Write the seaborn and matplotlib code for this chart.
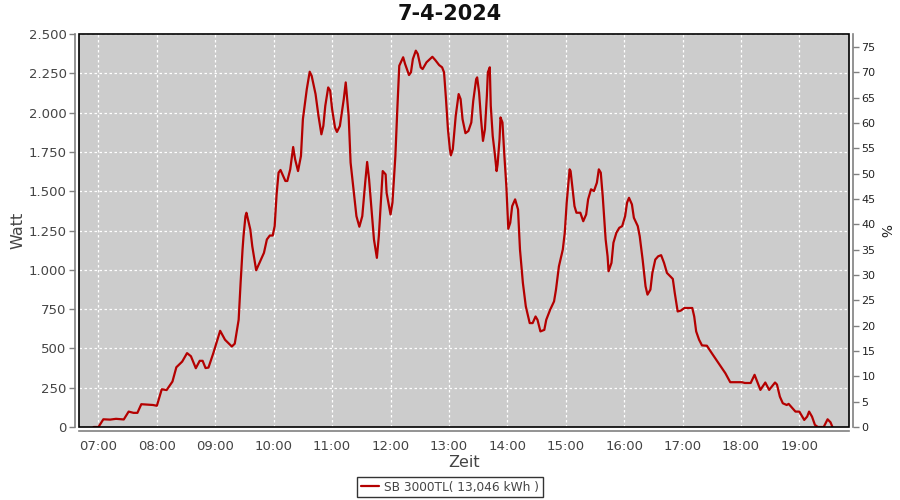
import matplotlib
matplotlib.use("Agg")
import matplotlib.pyplot as plt
import matplotlib.dates as mdates
from matplotlib.patches import Rectangle
from matplotlib.ticker import FuncFormatter
import pandas as pd
import seaborn as sns

DAY = "2024-04-07"
TITLE = "7-4-2024"
SERIES_NAME = "SB 3000TL( 13,046 kWh )"

TIMES = [
    "06:55", "07:00", "07:05", "07:12", "07:18", "07:26", "07:31", "07:36", "07:40", "07:44",
    "07:56", "08:00", "08:05", "08:10", "08:16", "08:20", "08:26", "08:31", "08:35", "08:40",
    "08:44", "08:47", "08:50", "08:53", "08:58", "09:05", "09:10", "09:17", "09:20", "09:24",
    "09:26", "09:28", "09:29", "09:31", "09:32", "09:36", "09:38", "09:42", "09:50", "09:53",
    "09:56", "09:59", "10:01", "10:03", "10:05", "10:07", "10:12", "10:14", "10:17", "10:20",
    "10:22", "10:25", "10:28", "10:30", "10:34", "10:37", "10:39", "10:43", "10:46", "10:49",
    "10:51", "10:53", "10:56", "10:58", "11:00", "11:03", "11:05", "11:08", "11:12", "11:14",
    "11:17", "11:19", "11:22", "11:25", "11:28", "11:31", "11:34", "11:36", "11:38", "11:41",
    "11:43", "11:46", "11:48", "11:50", "11:52", "11:55", "11:56", "12:00", "12:02", "12:05",
    "12:07", "12:09", "12:13", "12:15", "12:19", "12:21", "12:23", "12:26", "12:28", "12:31",
    "12:33", "12:37", "12:43", "12:46", "12:50", "12:53", "12:55", "12:57", "12:59", "13:01",
    "13:02", "13:04", "13:07", "13:10", "13:12", "13:14", "13:17", "13:20", "13:23", "13:25",
    "13:28", "13:29", "13:31", "13:33", "13:35", "13:37", "13:39", "13:40", "13:42", "13:43",
    "13:45", "13:47", "13:49", "13:50", "13:52", "13:53", "13:55", "13:57", "13:59", "14:01",
    "14:03", "14:05", "14:08", "14:11", "14:13", "14:16", "14:19", "14:23", "14:26", "14:29",
    "14:31", "14:34", "14:38", "14:40", "14:44", "14:48", "14:50", "14:53", "14:57", "14:59",
    "15:01", "15:04", "15:05", "15:09", "15:11", "15:15", "15:18", "15:21", "15:23", "15:26",
    "15:29", "15:32", "15:34", "15:36", "15:38", "15:41", "15:43", "15:44", "15:47", "15:49",
    "15:52", "15:55", "15:58", "16:01", "16:03", "16:05", "16:08", "16:10", "16:14", "16:16",
    "16:19", "16:22", "16:24", "16:27", "16:29", "16:32", "16:35", "16:38", "16:41", "16:44",
    "16:50", "16:52", "16:55", "16:58", "17:02", "17:06", "17:10", "17:12", "17:14", "17:17",
    "17:20", "17:25", "17:30", "17:37", "17:44", "17:49", "18:01", "18:04", "18:10", "18:14",
    "18:16", "18:20", "18:25", "18:29", "18:35", "18:37", "18:40", "18:43", "18:47", "18:49",
    "18:53", "18:56", "19:00", "19:02", "19:05", "19:08", "19:10", "19:13", "19:16", "19:19",
    "19:25", "19:29", "19:32", "19:34",
]

WATT = [
    0, 0, 49, 47, 52, 48, 98, 90, 90, 145,
    140, 135, 240, 235, 289, 380, 416, 470, 450, 374,
    421, 421, 375, 378, 470, 612, 555, 512, 530, 682,
    916, 1129, 1214, 1341, 1363, 1256, 1150, 997, 1108, 1193,
    1218, 1218, 1278, 1480, 1618, 1635, 1565, 1565, 1639, 1781,
    1703, 1628, 1724, 1958, 2149, 2260, 2234, 2118, 1979, 1862,
    1915, 2043, 2160, 2140, 2022, 1905, 1877, 1915, 2086, 2192,
    1979, 1682, 1512, 1341, 1274, 1341, 1554, 1686, 1575, 1341,
    1193, 1076, 1214, 1427, 1628, 1607, 1490, 1352, 1427, 1724,
    2022, 2298, 2352, 2309, 2239, 2256, 2341, 2394, 2373, 2288,
    2277, 2320, 2355, 2334, 2302, 2288, 2256, 2086, 1894, 1767,
    1728, 1767, 1979, 2118, 2086, 1958, 1869, 1883, 1937, 2075,
    2213, 2224, 2128, 1958, 1820, 1894, 2107, 2256, 2288, 2043,
    1851, 1746, 1628, 1670, 1830, 1969, 1937, 1724, 1533, 1261,
    1299, 1405, 1448, 1384, 1129, 916, 767, 661, 661, 703,
    682, 608, 618, 682, 746, 799, 874, 1022, 1129, 1235,
    1427, 1639, 1628, 1405, 1363, 1363, 1309, 1352, 1448, 1512,
    1501, 1554, 1639, 1618, 1469, 1193, 1086, 991, 1044, 1172,
    1235, 1267, 1278, 1341, 1427, 1458, 1416, 1331, 1278, 1214,
    1065, 895, 842, 874, 980, 1065, 1086, 1093, 1044, 980,
    942, 853, 735, 740, 757, 757, 757, 703, 608, 555,
    519, 517, 470, 406, 342, 285, 285, 280, 280, 332,
    300, 236, 283, 236, 283, 270, 193, 151, 140, 147,
    119, 98, 98, 77, 45, 66, 98, 66, 13, 0,
    0, 49, 30, 0,
]

WATT_TICKS = [0, 250, 500, 750, 1000, 1250, 1500, 1750, 2000, 2250, 2500]
PCT_TICKS = [0, 5, 10, 15, 20, 25, 30, 35, 40, 45, 50, 55, 60, 65, 70, 75]
PCT_MAX = 77.6
X_START = "06:40"
X_END = "19:51"

LINE_COLOR = "#b40000"
TEXT_COLOR = "#444444"
AXIS_GRAY = "#808080"

df = pd.DataFrame({"time": pd.to_datetime([f"{DAY} {t}" for t in TIMES]), "watt": WATT})

sns.set_style("white")
plt.rcParams["font.family"] = ["DejaVu Sans"]

fig = plt.figure(figsize=(9, 5), dpi=100)
ax = fig.add_axes([79 / 900, 1 - 427 / 500, 770 / 900, 393 / 500])
ax.set_facecolor("#cccccc")

sns.lineplot(data=df, x="time", y="watt", ax=ax, color=LINE_COLOR, linewidth=1.6,
             label=SERIES_NAME, legend=False)

ax.set_xlim(pd.Timestamp(f"{DAY} {X_START}"), pd.Timestamp(f"{DAY} {X_END}"))
ax.set_ylim(0, 2500)
ax.set_yticks(WATT_TICKS)
ax.yaxis.set_major_formatter(FuncFormatter(lambda v, p: f"{int(v):,}".replace(",", ".")))
ax.xaxis.set_major_locator(mdates.HourLocator())
ax.xaxis.set_major_formatter(mdates.DateFormatter("%H:%M"))

ax.grid(True, color="white", linestyle=(0, (2, 2)), linewidth=0.9)
ax.set_axisbelow(True)

for side in ["top", "right"]:
    ax.spines[side].set_visible(False)
for side in ["left", "bottom"]:
    ax.spines[side].set_position(("outward", 3))
    ax.spines[side].set_color(AXIS_GRAY)
    ax.spines[side].set_linewidth(1.2)
ax.add_patch(Rectangle((0, 0), 1, 1, transform=ax.transAxes, fill=False,
                       edgecolor="black", linewidth=1.2, clip_on=False, zorder=5))

ax.tick_params(axis="both", direction="out", length=4, width=1, color=AXIS_GRAY,
               labelcolor=TEXT_COLOR, labelsize=9.5, pad=2)
ax.set_xlabel("Zeit", fontsize=11.5, color=TEXT_COLOR, labelpad=2)
ax.set_ylabel("Watt", fontsize=11.5, color=TEXT_COLOR, labelpad=2)

ax2 = ax.twinx()
ax2.set_ylim(0, PCT_MAX)
ax2.set_yticks(PCT_TICKS)
for side in ["top", "left", "bottom"]:
    ax2.spines[side].set_visible(False)
ax2.spines["right"].set_position(("outward", 3))
ax2.spines["right"].set_color(AXIS_GRAY)
ax2.spines["right"].set_linewidth(1.2)
ax2.tick_params(axis="y", direction="out", length=4, width=1, color=AXIS_GRAY,
                labelcolor="#222222", labelsize=8, pad=2)
ax2.set_ylabel("%", fontsize=10, color="#222222", rotation=270, labelpad=11)

fig.text(0.5, 0.972, TITLE, ha="center", va="center", fontsize=15,
         fontweight="bold", color="#111111")

handles, labels = ax.get_legend_handles_labels()
leg = fig.legend(handles, labels, loc="center", bbox_to_anchor=(0.5, 0.026),
                 frameon=True, fancybox=False, fontsize=8.7, handlelength=1.5,
                 borderpad=0.3, handletextpad=0.4, labelcolor=TEXT_COLOR)
leg.get_frame().set_edgecolor("black")
leg.get_frame().set_linewidth(1)

fig.savefig("out.png", dpi=100)
